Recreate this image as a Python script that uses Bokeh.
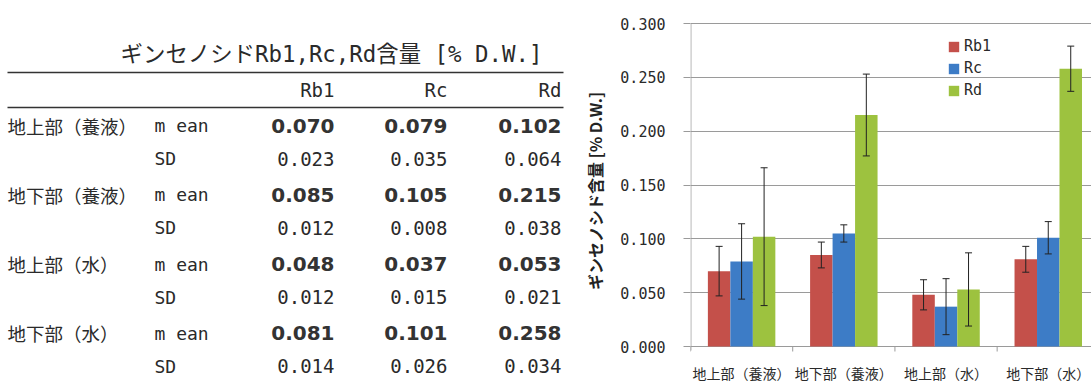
from bokeh.plotting import figure
from bokeh.models import (Range1d, FixedTicker, NumeralTickFormatter, Whisker, TeeHead,
                          ColumnDataSource, Legend, LegendItem, Label)
from bokeh.layouts import row
from bokeh.core.properties import value
from bokeh.embed import file_html
from bokeh.resources import INLINE

# ---------------- data ----------------
categories = ["地上部（養液）", "地下部（養液）", "地上部（水）", "地下部（水）"]
series = ["Rb1", "Rc", "Rd"]
# table values
rb1_mean = [0.070, 0.085, 0.048, 0.081]
rb1_sd = [0.023, 0.012, 0.012, 0.014]
rc_mean = [0.079, 0.105, 0.037, 0.101]
rc_sd = [0.035, 0.008, 0.015, 0.026]
rd_mean = [0.102, 0.215, 0.053, 0.258]
rd_sd = [0.064, 0.038, 0.021, 0.034]
# error bar half-lengths as drawn in the chart
rb1_err = [0.023, 0.012, 0.014, 0.012]
rc_err = [0.035, 0.008, 0.026, 0.015]
rd_err = [0.064, 0.038, 0.034, 0.021]
y_ticks = [0.0, 0.05, 0.10, 0.15, 0.20, 0.25, 0.30]
table_title = "ギンセノシドRb1,Rc,Rd含量 [% D.W.]"
y_title = "ギンセノシド含量 [% D.W.]"
stat_labels = ["m ean", "SD"]

means = [rb1_mean, rc_mean, rd_mean]
sds = [rb1_sd, rc_sd, rd_sd]
errs = [rb1_err, rc_err, rd_err]
colors = ["#C4504A", "#3D7CC6", "#9DC23F"]

MONO = "DejaVu Sans Mono, Noto Sans CJK JP"
CJK = "Noto Sans CJK JP"
TXT = "#2a2a2a"
AXC = "#9a9a9a"
H = 381

# ---------------- table ----------------
t = figure(width=580, height=H, x_range=Range1d(0, 580), y_range=Range1d(H, 0),
           output_backend="svg", toolbar_location=None, min_border=0,
           x_axis_location=None, y_axis_location=None)
t.grid.visible = False
t.outline_line_color = None


def cell(x, y, txt, align, font, size, bold=False, color=TXT):
    t.add_layout(Label(x=x, y=y, text=txt, text_align=align, text_baseline="middle",
                       text_font=font, text_font_size=size,
                       text_font_style="bold" if bold else "normal", text_color=color))


cell(331, 53, table_title, "center", MONO, "22.4px")
t.segment(x0=[7, 7], y0=[72, 107], x1=[563, 563], y1=[72, 107], line_color="#333333", line_width=1.5)

col_right = [334, 447, 561]
for xr, s in zip(col_right, series):
    cell(xr, 89, s, "right", MONO, "19px")

for i, cat in enumerate(categories):
    ym = 125 + 69.3 * i
    ys = ym + 33
    cell(7, ym, cat, "left", CJK, "18.5px")
    cell(154, ym, stat_labels[0], "left", MONO, "18px")
    cell(154, ys, stat_labels[1], "left", MONO, "18px")
    for xr, m, s in zip(col_right, means, sds):
        cell(xr, ym, f"{m[i]:.3f}", "right", "DejaVu Sans", "20px", bold=True, color="#333333")
        cell(xr, ys, f"{s[i]:.3f}", "right", MONO, "19px")

# ---------------- chart ----------------
# frame covers the full height; value 0.3 sits at pixel 23 and 0 at pixel 346
PX_TOP, PX_ZERO = 23, 346
YMAX = y_ticks[-1]


def px(p):
    """pixel row (from top of window) -> data value"""
    return YMAX * (PX_ZERO - p) / (PX_ZERO - PX_TOP)


c = figure(width=511, height=H, x_range=Range1d(0, 3.923), y_range=Range1d(px(H), px(0)),
           output_backend="svg", toolbar_location=None, x_axis_location=None,
           min_border_left=105, min_border_right=0, min_border_top=0, min_border_bottom=0)
c.outline_line_color = None
c.xgrid.visible = False
c.ygrid.grid_line_color = AXC
c.ygrid.grid_line_width = 1

offsets = [-0.22, 0.0, 0.22]
items = []
for name, m, e, col, off in zip(series, means, errs, colors, offsets):
    src = ColumnDataSource(dict(
        x=[k + 0.5 + off for k in range(len(categories))],
        top=m,
        upper=[a + b for a, b in zip(m, e)],
        lower=[a - b for a, b in zip(m, e)],
    ))
    r = c.vbar(x="x", top="top", bottom=0, width=0.22, source=src,
               fill_color=col, line_color=None)
    items.append(LegendItem(label=name, renderers=[r]))
    w = Whisker(source=src, base="x", upper="upper", lower="lower",
                line_color="#222222", line_width=1, level="overlay",
                upper_head=TeeHead(size=7, line_color="#222222", line_width=1),
                lower_head=TeeHead(size=7, line_color="#222222", line_width=1))
    c.add_layout(w)

# axis lines and category ticks (Excel-style, ticks between categories)
c.segment(x0=[0.004], y0=[YMAX], x1=[0.004], y1=[px(PX_ZERO + 4)], line_color=AXC, line_width=1)
bounds = list(range(len(categories)))
c.segment(x0=bounds, y0=[0] * len(bounds), x1=bounds, y1=[px(PX_ZERO + 5)] * len(bounds),
          line_color=AXC, line_width=1)
centers = [k + 0.5 for k in range(len(categories))]
c.text(x=centers, y=[px(372)] * len(categories), text=categories, text_align="center",
       text_baseline="middle", text_font=value(CJK), text_font_size="14px", text_color=TXT)

legend = Legend(items=items, location=(257, 246 + (H - PX_ZERO)), border_line_color=None,
                background_fill_alpha=0, padding=0, margin=0, spacing=2,
                glyph_width=13, glyph_height=13, label_height=20, label_standoff=4,
                label_text_font="DejaVu Sans Mono", label_text_font_size="15px",
                label_text_color=TXT)
c.add_layout(legend)

ya = c.yaxis[0]
ya.ticker = FixedTicker(ticks=y_ticks)
ya.formatter = NumeralTickFormatter(format="0.000")
ya.major_label_text_font = "DejaVu Sans Mono"
ya.major_label_text_font_size = "15px"
ya.major_label_text_color = TXT
ya.major_tick_out = 7
ya.major_tick_in = 0
ya.major_tick_line_color = AXC
ya.minor_tick_line_color = None
ya.axis_line_color = None
ya.major_label_standoff = 18
ya.axis_label = y_title
ya.axis_label_text_font = CJK
ya.axis_label_text_font_size = "16px"
ya.axis_label_text_font_style = "bold"
ya.axis_label_text_color = "#222222"
ya.axis_label_standoff = 10

layout = row(t, c)
open("out.html", "w").write(file_html(layout, INLINE))
